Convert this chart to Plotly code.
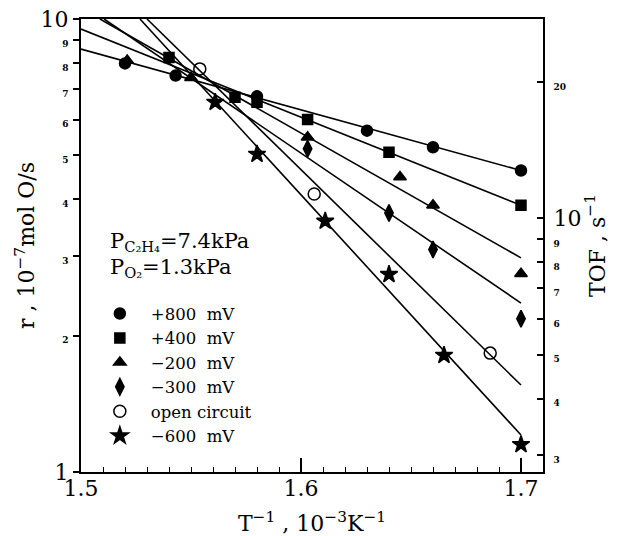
import plotly.graph_objects as go

# ---- data ----
x_p800 = [1.520, 1.543, 1.580, 1.630, 1.660, 1.700]
r_p800 = [7.98, 7.50, 6.75, 5.67, 5.21, 4.63]

x_p400 = [1.540, 1.570, 1.580, 1.603, 1.640, 1.700]
r_p400 = [8.22, 6.72, 6.55, 6.00, 5.08, 3.88]

x_m200 = [1.521, 1.550, 1.603, 1.645, 1.660, 1.700]
r_m200 = [8.10, 7.42, 5.48, 4.48, 3.88, 2.74]

x_m300 = [1.603, 1.640, 1.660, 1.700]
r_m300 = [5.17, 3.73, 3.10, 2.18]

x_open = [1.554, 1.606, 1.686]
r_open = [7.76, 4.11, 1.83]

x_m600 = [1.561, 1.580, 1.611, 1.640, 1.665, 1.700]
r_m600 = [6.55, 5.03, 3.58, 2.73, 1.81, 1.15]

# fitted Arrhenius lines (end points)
fit_x_p800 = [1.500, 1.700]
fit_r_p800 = [8.58, 4.63]
fit_x_p400 = [1.500, 1.700]
fit_r_p400 = [9.50, 3.88]
fit_x_m200 = [1.5086, 1.700]
fit_r_m200 = [10.0, 2.97]
fit_x_m300 = [1.5105, 1.700]
fit_r_m300 = [10.0, 2.36]
fit_x_open = [1.530, 1.700]
fit_r_open = [10.0, 1.556]
fit_x_m600 = [1.5268, 1.700]
fit_r_m600 = [10.0, 1.207]

legend_names = ["+800  mV", "+400  mV", "\u2212200  mV", "\u2212300  mV",
                "open circuit", "\u2212600  mV"]

y_ticks = [1, 2, 3, 4, 5, 6, 7, 8, 9, 10]
tof_ticks = [3, 4, 5, 6, 7, 8, 9, 10, 20]
x_ticks = [1.5, 1.6, 1.7]

FONT = "DejaVu Serif"


def small(v):
    return '<span style="font-size:9px"><b>%d</b></span>' % v


y_ticktext = [str(v) if v in (1, 10) else small(v) for v in y_ticks]
tof_ticktext = [str(v) if v == 10 else small(v) for v in tof_ticks]

fig = go.Figure()

# fit lines
for fx, fr in [(fit_x_p800, fit_r_p800), (fit_x_p400, fit_r_p400),
               (fit_x_m200, fit_r_m200), (fit_x_m300, fit_r_m300),
               (fit_x_open, fit_r_open), (fit_x_m600, fit_r_m600)]:
    fig.add_trace(go.Scatter(x=fx, y=fr, mode="lines",
                             line=dict(color="black", width=1.6),
                             showlegend=False, hoverinfo="skip"))

series = [
    (x_p800, r_p800, "circle", 11),
    (x_p400, r_p400, "square", 10),
    (x_m200, r_m200, "triangle-up", 11),
    (x_m300, r_m300, "diamond-tall", 12),
    (x_open, r_open, "circle-open", 12),
    (x_m600, r_m600, "star", 13),
]
for (xs, rs, sym, sz), name in zip(series, legend_names):
    fig.add_trace(go.Scatter(
        x=xs, y=rs, mode="markers", name=name,
        marker=dict(symbol=sym, size=sz, color="black",
                    line=dict(color="black", width=1.5))))

# dummy trace for the right axis
fig.add_trace(go.Scatter(x=[None], y=[None], yaxis="y2", showlegend=False))

fig.update_layout(
    width=610, height=528,
    margin=dict(l=73, r=75, t=11, b=64),
    paper_bgcolor="white", plot_bgcolor="white",
    font=dict(family=FONT, color="black", size=20),
    xaxis=dict(
        range=[1.5, 1.71], tickvals=x_ticks, ticktext=["1.5", "1.6", "1.7"],
        ticks="inside", ticklen=14, tickwidth=1.5, tickcolor="black",
        minor=dict(dtick=0.01, tick0=1.5, ticks="inside", ticklen=5,
                   tickwidth=1.2, tickcolor="black"),
        showline=True, linewidth=2, linecolor="black", mirror=True,
        showgrid=False, zeroline=False, automargin=False,
        ticklabelstandoff=-4,
        tickfont=dict(size=22, family=FONT),
        title=dict(text="T<sup>\u22121</sup> , 10<sup>\u22123</sup>K<sup>\u22121</sup>",
                   font=dict(size=22, family=FONT), standoff=15),
    ),
    yaxis=dict(
        type="log", range=[0, 1], tickvals=y_ticks, ticktext=y_ticktext,
        ticks="outside", ticklen=6, tickwidth=1.5, tickcolor="black",
        showline=True, linewidth=2, linecolor="black",
        showgrid=False, zeroline=False, automargin=False,
        ticklabeloverflow="allow",
        tickfont=dict(size=22, family=FONT),
        title=dict(text="r , 10<sup>\u22127</sup>mol O/s",
                   font=dict(size=22, family=FONT), standoff=0),
    ),
    yaxis2=dict(
        type="log", range=[0.44, 1.44], overlaying="y", side="right",
        tickvals=tof_ticks, ticktext=tof_ticktext,
        ticks="inside", ticklen=6, tickwidth=1.5, tickcolor="black",
        showline=True, linewidth=2, linecolor="black",
        showgrid=False, zeroline=False, automargin=False,
        ticklabelstandoff=4, ticklabeloverflow="allow",
        tickfont=dict(size=22, family=FONT),
        title=dict(text="TOF , s<sup>\u22121</sup>",
                   font=dict(size=22, family=FONT), standoff=2),
    ),
    legend=dict(x=0.017, y=0.388, xanchor="left", yanchor="top",
                bgcolor="rgba(0,0,0,0)", borderwidth=0,
                font=dict(size=16.5, family=FONT), itemwidth=52,
                tracegroupgap=0),
    showlegend=True,
    annotations=[
        dict(x=0.058, y=0.508, xref="paper", yref="paper", xanchor="left",
             yanchor="middle", showarrow=False,
             text="P<sub>C\u2082H\u2084</sub>=7.4kPa",
             font=dict(size=21, family=FONT)),
        dict(x=0.058, y=0.45, xref="paper", yref="paper", xanchor="left",
             yanchor="middle", showarrow=False,
             text="P<sub>O\u2082</sub>=1.3kPa",
             font=dict(size=21, family=FONT)),
    ],
)

fig.write_html("out.html")
